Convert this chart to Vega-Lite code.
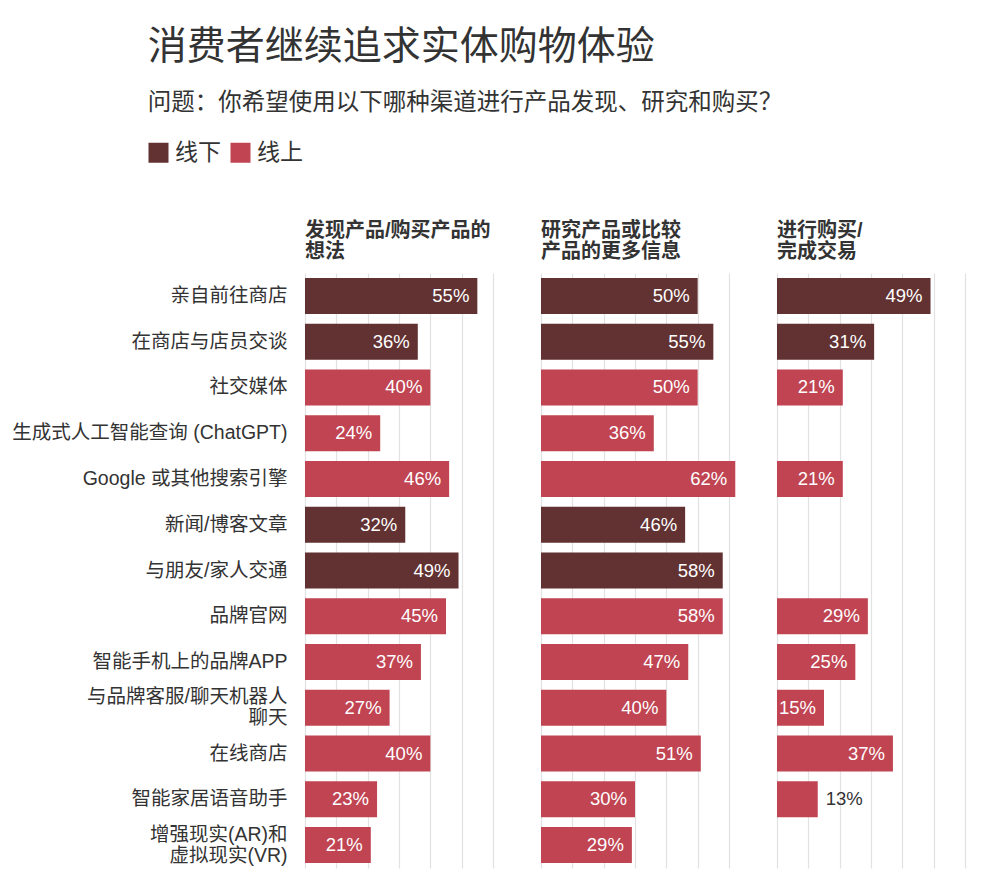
{
  "$schema": "https://vega.github.io/schema/vega-lite/v6.json",
  "autosize": {"type": "pad"},
  "padding": {"left": 11, "top": 27, "right": 5, "bottom": 5},
  "background": "#ffffff",
  "title": {
    "text": "消费者继续追求实体购物体验",
    "subtitle": "问题：你希望使用以下哪种渠道进行产品发现、研究和购买？",
    "anchor": "start",
    "frame": "bounds",
    "dx": 136,
    "fontSize": 39,
    "fontWeight": "normal",
    "font": "Noto Sans CJK SC",
    "color": "#333333",
    "subtitleFont": "Noto Sans CJK SC",
    "subtitleFontSize": 23.5,
    "subtitleColor": "#333333",
    "subtitlePadding": 24,
    "offset": 27
  },
  "datasets": {
    "d": [
      {"metric": "发现", "channel": "亲自前往商店", "type": "线下", "value": 0.55},
      {"metric": "发现", "channel": "在商店与店员交谈", "type": "线下", "value": 0.36},
      {"metric": "发现", "channel": "社交媒体", "type": "线上", "value": 0.40},
      {"metric": "发现", "channel": "生成式人工智能查询 (ChatGPT)", "type": "线上", "value": 0.24},
      {"metric": "发现", "channel": "Google 或其他搜索引擎", "type": "线上", "value": 0.46},
      {"metric": "发现", "channel": "新闻/博客文章", "type": "线下", "value": 0.32},
      {"metric": "发现", "channel": "与朋友/家人交通", "type": "线下", "value": 0.49},
      {"metric": "发现", "channel": "品牌官网", "type": "线上", "value": 0.45},
      {"metric": "发现", "channel": "智能手机上的品牌APP", "type": "线上", "value": 0.37},
      {"metric": "发现", "channel": "与品牌客服/聊天机器人|聊天", "type": "线上", "value": 0.27},
      {"metric": "发现", "channel": "在线商店", "type": "线上", "value": 0.40},
      {"metric": "发现", "channel": "智能家居语音助手", "type": "线上", "value": 0.23},
      {"metric": "发现", "channel": "增强现实(AR)和|虚拟现实(VR)", "type": "线上", "value": 0.21},
      {"metric": "研究", "channel": "亲自前往商店", "type": "线下", "value": 0.50},
      {"metric": "研究", "channel": "在商店与店员交谈", "type": "线下", "value": 0.55},
      {"metric": "研究", "channel": "社交媒体", "type": "线上", "value": 0.50},
      {"metric": "研究", "channel": "生成式人工智能查询 (ChatGPT)", "type": "线上", "value": 0.36},
      {"metric": "研究", "channel": "Google 或其他搜索引擎", "type": "线上", "value": 0.62},
      {"metric": "研究", "channel": "新闻/博客文章", "type": "线下", "value": 0.46},
      {"metric": "研究", "channel": "与朋友/家人交通", "type": "线下", "value": 0.58},
      {"metric": "研究", "channel": "品牌官网", "type": "线上", "value": 0.58},
      {"metric": "研究", "channel": "智能手机上的品牌APP", "type": "线上", "value": 0.47},
      {"metric": "研究", "channel": "与品牌客服/聊天机器人|聊天", "type": "线上", "value": 0.40},
      {"metric": "研究", "channel": "在线商店", "type": "线上", "value": 0.51},
      {"metric": "研究", "channel": "智能家居语音助手", "type": "线上", "value": 0.30},
      {"metric": "研究", "channel": "增强现实(AR)和|虚拟现实(VR)", "type": "线上", "value": 0.29},
      {"metric": "购买", "channel": "亲自前往商店", "type": "线下", "value": 0.49},
      {"metric": "购买", "channel": "在商店与店员交谈", "type": "线下", "value": 0.31},
      {"metric": "购买", "channel": "社交媒体", "type": "线上", "value": 0.21},
      {"metric": "购买", "channel": "Google 或其他搜索引擎", "type": "线上", "value": 0.21},
      {"metric": "购买", "channel": "品牌官网", "type": "线上", "value": 0.29},
      {"metric": "购买", "channel": "智能手机上的品牌APP", "type": "线上", "value": 0.25},
      {"metric": "购买", "channel": "与品牌客服/聊天机器人|聊天", "type": "线上", "value": 0.15},
      {"metric": "购买", "channel": "在线商店", "type": "线上", "value": 0.37},
      {"metric": "购买", "channel": "智能家居语音助手", "type": "线上", "value": 0.13}
    ]
  },
  "spacing": 48,
  "bounds": "flush",
  "hconcat": [
    {
      "title": {"text": ["发现产品/购买产品的", "想法"]},
      "width": 188,
      "height": 595,
      "data": {"name": "d"},
      "transform": [{"filter": "datum.metric === '发现'"}],
      "encoding": {
        "y": {
          "field": "channel", "type": "nominal",
          "scale": {"domain": ["亲自前往商店", "在商店与店员交谈", "社交媒体", "生成式人工智能查询 (ChatGPT)", "Google 或其他搜索引擎", "新闻/博客文章", "与朋友/家人交通", "品牌官网", "智能手机上的品牌APP", "与品牌客服/聊天机器人|聊天", "在线商店", "智能家居语音助手", "增强现实(AR)和|虚拟现实(VR)"], "paddingInner": 0.213, "paddingOuter": 0.107},
          "axis": {"title": null, "domain": false, "ticks": false, "labelPadding": 18, "labelFontSize": 19.5, "labelColor": "#333333", "labelFont": "Liberation Sans, Noto Sans CJK SC", "labelExpr": "split(datum.label, '|')", "labelLineHeight": 21, "labelLimit": 400,
            "labelOffset": {"condition": {"test": "indexof(datum.value, '|') >= 0", "value": -10.5}, "value": 0}}
        },
        "x": {
          "field": "value", "type": "quantitative",
          "scale": {"domain": [0, 0.6], "nice": false, "clamp": false},
          "axis": {"title": null, "labels": false, "ticks": false, "domain": false, "grid": true, "values": [0, 0.1, 0.2, 0.3, 0.4, 0.5, 0.6], "gridColor": "#e2e2e2", "gridWidth": 1.2}
        }
      },
      "layer": [
        {"mark": {"type": "bar", "clip": false}, "encoding": {"color": {"field": "type", "type": "nominal", "scale": {"domain": ["线下", "线上"], "range": ["#623131", "#c04452"]}, "legend": {"title": null}}}},
        {"transform": [{"filter": "datum.value >= 0.14"}], "mark": {"type": "text", "align": "right", "dx": -8, "color": "#ffffff", "fontSize": 18.5, "font": "Liberation Sans"}, "encoding": {"text": {"field": "value", "type": "quantitative", "format": ".0%"}}},
        {"transform": [{"filter": "datum.value < 0.14"}], "mark": {"type": "text", "align": "left", "dx": 8, "color": "#333333", "fontSize": 18.5, "font": "Liberation Sans"}, "encoding": {"text": {"field": "value", "type": "quantitative", "format": ".0%"}}}
      ]
    },
    {
      "title": {"text": ["研究产品或比较", "产品的更多信息"]},
      "width": 188,
      "height": 595,
      "data": {"name": "d"},
      "transform": [{"filter": "datum.metric === '研究'"}],
      "encoding": {
        "y": {
          "field": "channel", "type": "nominal",
          "scale": {"domain": ["亲自前往商店", "在商店与店员交谈", "社交媒体", "生成式人工智能查询 (ChatGPT)", "Google 或其他搜索引擎", "新闻/博客文章", "与朋友/家人交通", "品牌官网", "智能手机上的品牌APP", "与品牌客服/聊天机器人|聊天", "在线商店", "智能家居语音助手", "增强现实(AR)和|虚拟现实(VR)"], "paddingInner": 0.213, "paddingOuter": 0.107},
          "axis": null
        },
        "x": {
          "field": "value", "type": "quantitative",
          "scale": {"domain": [0, 0.6], "nice": false, "clamp": false},
          "axis": {"title": null, "labels": false, "ticks": false, "domain": false, "grid": true, "values": [0, 0.1, 0.2, 0.3, 0.4, 0.5, 0.6], "gridColor": "#e2e2e2", "gridWidth": 1.2}
        }
      },
      "layer": [
        {"mark": {"type": "bar", "clip": false}, "encoding": {"color": {"field": "type", "type": "nominal", "scale": {"domain": ["线下", "线上"], "range": ["#623131", "#c04452"]}, "legend": {"title": null}}}},
        {"transform": [{"filter": "datum.value >= 0.14"}], "mark": {"type": "text", "align": "right", "dx": -8, "color": "#ffffff", "fontSize": 18.5, "font": "Liberation Sans"}, "encoding": {"text": {"field": "value", "type": "quantitative", "format": ".0%"}}},
        {"transform": [{"filter": "datum.value < 0.14"}], "mark": {"type": "text", "align": "left", "dx": 8, "color": "#333333", "fontSize": 18.5, "font": "Liberation Sans"}, "encoding": {"text": {"field": "value", "type": "quantitative", "format": ".0%"}}}
      ]
    },
    {
      "title": {"text": ["进行购买/", "完成交易"]},
      "width": 188,
      "height": 595,
      "data": {"name": "d"},
      "transform": [{"filter": "datum.metric === '购买'"}],
      "encoding": {
        "y": {
          "field": "channel", "type": "nominal",
          "scale": {"domain": ["亲自前往商店", "在商店与店员交谈", "社交媒体", "生成式人工智能查询 (ChatGPT)", "Google 或其他搜索引擎", "新闻/博客文章", "与朋友/家人交通", "品牌官网", "智能手机上的品牌APP", "与品牌客服/聊天机器人|聊天", "在线商店", "智能家居语音助手", "增强现实(AR)和|虚拟现实(VR)"], "paddingInner": 0.213, "paddingOuter": 0.107},
          "axis": null
        },
        "x": {
          "field": "value", "type": "quantitative",
          "scale": {"domain": [0, 0.6], "nice": false, "clamp": false},
          "axis": {"title": null, "labels": false, "ticks": false, "domain": false, "grid": true, "values": [0, 0.1, 0.2, 0.3, 0.4, 0.5, 0.6], "gridColor": "#e2e2e2", "gridWidth": 1.2}
        }
      },
      "layer": [
        {"mark": {"type": "bar", "clip": false}, "encoding": {"color": {"field": "type", "type": "nominal", "scale": {"domain": ["线下", "线上"], "range": ["#623131", "#c04452"]}, "legend": {"title": null}}}},
        {"transform": [{"filter": "datum.value >= 0.14"}], "mark": {"type": "text", "align": "right", "dx": -8, "color": "#ffffff", "fontSize": 18.5, "font": "Liberation Sans"}, "encoding": {"text": {"field": "value", "type": "quantitative", "format": ".0%"}}},
        {"transform": [{"filter": "datum.value < 0.14"}], "mark": {"type": "text", "align": "left", "dx": 8, "color": "#333333", "fontSize": 18.5, "font": "Liberation Sans"}, "encoding": {"text": {"field": "value", "type": "quantitative", "format": ".0%"}}}
      ]
    }
  ],
  "resolve": {"scale": {"color": "shared"}},
  "config": {
    "view": {"stroke": null},
    "title": {"anchor": "start", "frame": "group", "fontSize": 20, "fontWeight": "bold", "font": "Liberation Sans, Noto Sans CJK SC", "color": "#333333", "lineHeight": 21, "offset": 11.5},
    "legend": {"orient": "none", "legendX": -158, "legendY": -132, "direction": "horizontal", "symbolType": "square", "symbolSize": 400, "symbolStrokeWidth": 0, "symbolOpacity": 1, "labelFontSize": 23, "labelFont": "Noto Sans CJK SC", "labelColor": "#333333", "columnPadding": 8, "labelOffset": 5}
  }
}
